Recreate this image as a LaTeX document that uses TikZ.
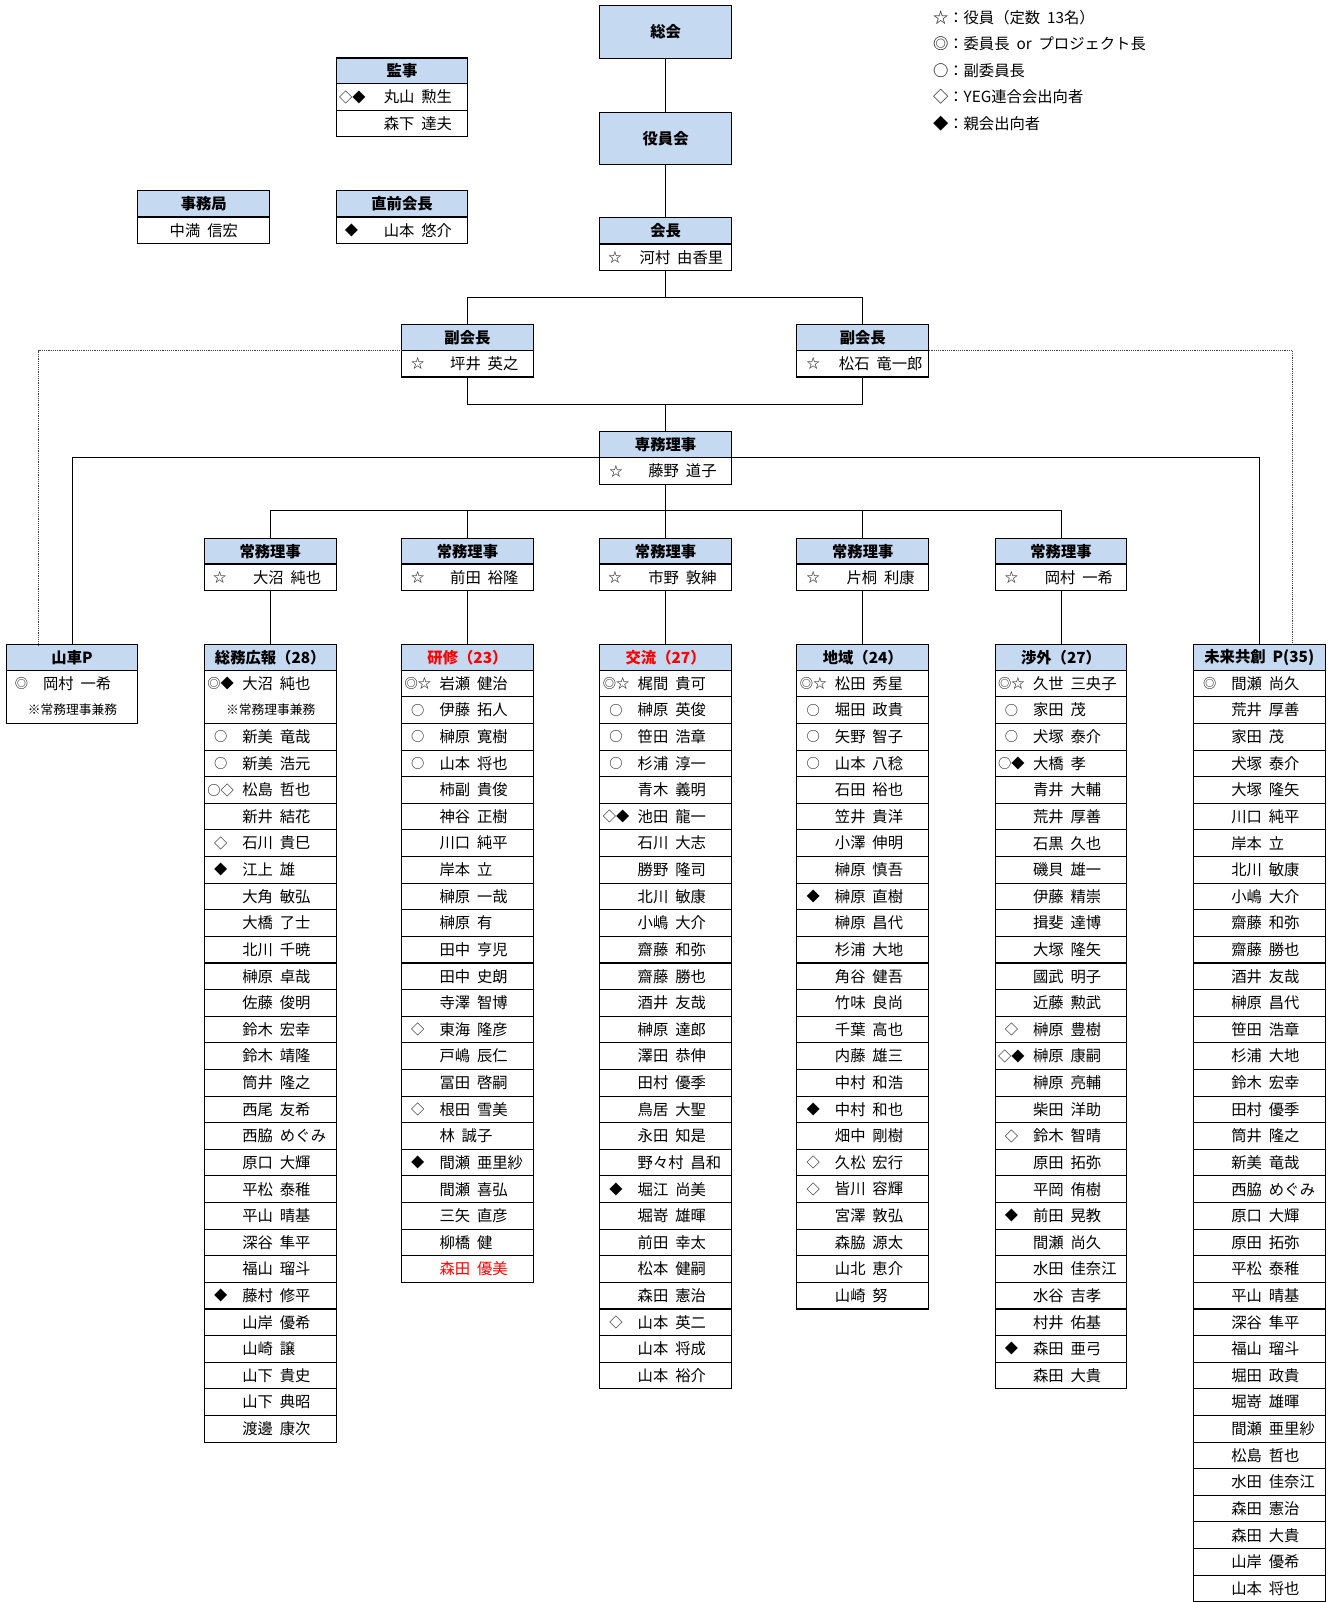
\documentclass[tikz,border=0pt]{standalone}
\usepackage{fontspec}
\setmainfont{Noto Sans CJK JP}[WordSpace=2]
\definecolor{hdrblue}{RGB}{197,217,241}
\begin{document}
\begin{tikzpicture}[x=1pt,y=-1pt,
  box/.style={draw=black, line width=1.1pt, minimum width=129pt, inner sep=0pt, outer sep=0pt},
  hdr/.style={box, fill=hdrblue, minimum height=25.5pt, font=\fontsize{15}{18}\selectfont\bfseries},
  bighdr/.style={box, fill=hdrblue, font=\fontsize{15}{18}\selectfont\bfseries},
  cell/.style={box, fill=white, minimum height=26.05pt},
  nm/.style={inner sep=0pt, font=\fontsize{15}{18}\selectfont},
  mk/.style={inner sep=0pt, font=\fontsize{13}{15}\selectfont},
  note/.style={inner sep=0pt, font=\fontsize{12.5}{14}\selectfont},
  leg/.style={inner sep=0pt, anchor=west, font=\fontsize{15}{18}\selectfont},
  conn/.style={draw=black, line width=1pt},
  dotl/.style={draw=black!75, line width=0.8pt, densely dotted}]
\useasboundingbox (0,0) rectangle (1302,1568);

% ---------- coordinates for connectors ----------
\coordinate (j1) at (651.5,291);
\coordinate (j2) at (651.5,396);
\coordinate (j3) at (651.5,500);
\coordinate (dl) at (38,631);
\coordinate (dr) at (1265,631);

% ---------- top boxes ----------
\node[bighdr, minimum height=52pt] (sokai) at (651.5,31) {総会};
\node[bighdr, minimum height=51pt] (yakuin) at (651.5,135.5) {役員会};

\node[hdr] (kaicho-h) at (651.5,226) {会長};
\node[cell] (kaicho-r) at (651.5,252) {};

\node[hdr] (fkL-h) at (457.5,330.5) {副会長};
\node[cell] (fkL-r) at (457.5,356) {};
\node[hdr] (fkR-h) at (844.5,330.5) {副会長};
\node[cell] (fkR-r) at (844.5,356) {};

\node[hdr] (senmu-h) at (651.5,435) {専務理事};
\node[cell] (senmu-r) at (651.5,461) {};

\foreach \c/\k in {264.5/1,457.5/2,651.5/3,844.5/4,1038.5/5}{
  \node[hdr] (jomu\k-h) at (\c,539.5) {常務理事};
  \node[cell] (jomu\k-r) at (\c,565) {};
}

% committee headers
\node[hdr] (dashi-h) at (70.5,643.5) {山車P};
\node[hdr] (somu-h) at (264.5,643.5) {総務広報（28）};
\node[hdr, text=red] (kenshu-h) at (457.5,643.5) {研修（23）};
\node[hdr, text=red] (koryu-h) at (651.5,643.5) {交流（27）};
\node[hdr] (chiiki-h) at (844.5,643.5) {地域（24）};
\node[hdr] (shogai-h) at (1038.5,643.5) {渉外（27）};
\node[hdr] (mirai-h) at (1232.5,643.5) {未来共創 P(35)};

% ---------- connectors ----------
\draw[conn] (sokai.south) -- (yakuin.north);
\draw[conn] (yakuin.south) -- (kaicho-h.north);
\draw[conn] (kaicho-r.south) -- (j1);
\draw[conn] (fkL-h.north) |- (j1) -| (fkR-h.north);
\draw[conn] (fkL-r.south) |- (j2) -| (fkR-r.south);
\draw[conn] (j2) -- (senmu-h.north);
\draw[conn] (dashi-h.north) |- (senmu-h.south west);
\draw[conn] (mirai-h.north) |- (senmu-h.south east);
\draw[conn] (senmu-r.south) -- (j3);
\draw[conn] (jomu1-h.north) |- (j3) -| (jomu5-h.north);
\draw[conn] (jomu2-h.north) |- (j3);
\draw[conn] (jomu4-h.north) |- (j3);
\draw[conn] (j3) -- (jomu3-h.north);
\draw[conn] (jomu1-r.south) -- (somu-h.north);
\draw[conn] (jomu2-r.south) -- (kenshu-h.north);
\draw[conn] (jomu3-r.south) -- (koryu-h.north);
\draw[conn] (jomu4-r.south) -- (chiiki-h.north);
\draw[conn] (jomu5-r.south) -- (shogai-h.north);
\draw[dotl] (fkL-h.south west) -| (dl);
\draw[dotl] (fkR-h.south east) -| (dr);

% ---------- names in top boxes ----------
\node[mk] at (602,252) {☆};
\node[nm] at (667,252) {河村 由香里};
\node[mk] at (409,356) {☆};
\node[nm] at (474,356) {坪井 英之};
\node[mk] at (796,356) {☆};
\node[nm] at (862,356) {松石 竜一郎};
\node[mk] at (603,461) {☆};
\node[nm] at (668,461) {藤野 道子};
\node[mk] at (215,565) {☆};
\node[nm] at (281,565) {大沼 純也};
\node[mk] at (409,565) {☆};
\node[nm] at (474,565) {前田 裕隆};
\node[mk] at (602,565) {☆};
\node[nm] at (668,565) {市野 敦紳};
\node[mk] at (796,565) {☆};
\node[nm] at (862,565) {片桐 利康};
\node[mk] at (990,565) {☆};
\node[nm] at (1056,565) {岡村 一希};

% ---------- 監事, 事務局, 直前会長 ----------
\node[hdr] (kanji-h) at (393.5,69.5) {監事};
\node[cell] (kanji-r1) at (393.5,95) {};
\node[cell] (kanji-r2) at (393.5,121) {};
\node[mk] at (345,95) {◇◆};
\node[nm] at (409,95) {丸山 勲生};
\node[nm] at (409,121) {森下 達夫};

\node[hdr] (jimu-h) at (199.5,199.5) {事務局};
\node[cell] (jimu-r) at (199.5,225.5) {};
\node[nm] at (199.5,225.5) {中満 信宏};

\node[hdr] (zenkai-h) at (393.5,199.5) {直前会長};
\node[cell] (zenkai-r) at (393.5,225.5) {};
\node[mk] at (344,225.5) {◆};
\node[nm] at (409,225.5) {山本 悠介};

% ---------- legend ----------
\node[leg] (lg1) at (913,17) {☆：役員（定数 13名）};
\node[leg] (lg2) at (913,43) {◎：委員長 or プロジェクト長};
\node[leg] (lg3) at (913,69) {○：副委員長};
\node[leg] (lg4) at (913,95) {◇：YEG連合会出向者};
\node[leg] (lg5) at (913,121) {◆：親会出向者};

% ---------- 山車P ----------
\node[box, fill=white, minimum height=52.1pt] (dashi-1) at (70.5,682.05) {};
\node[mk] at (21,669) {◎};
\node[nm, anchor=west] at (42,669) {岡村 一希};
\node[note] at (71,695) {※常務理事兼務};

% ---------- 総務広報 ----------
\node[box, fill=white, minimum height=52.1pt] (somu-1) at (264.5,682.05) {};
\node[mk] at (216,669) {◎◆};
\node[nm, anchor=west] at (237,669) {大沼 純也};
\node[note] at (265,695) {※常務理事兼務};
\foreach[count=\i] \m/\n in {○/新美 竜哉, ○/新美 浩元, ○◇/松島 哲也, /新井 結花, ◇/石川 貴巳, ◆/江上 雄, /大角 敏弘, /大橋 了士, /北川 千暁, /榊原 卓哉, /佐藤 俊明, /鈴木 宏幸, /鈴木 靖隆, /筒井 隆之, /西尾 友希, /西脇 めぐみ, /原口 大輝, /平松 泰稚, /平山 晴基, /深谷 隼平, /福山 瑠斗, ◆/藤村 修平, /山岸 優希, /山崎 譲, /山下 貴史, /山下 典昭, /渡邊 康次}{
  \node[cell] (somu-r\i) at (264.5,{656+(\i+1.5)*26.05}) {};
  \node[mk] at (216,{656+(\i+1.5)*26.05}) {\m};
  \node[nm, anchor=west] at (237,{656+(\i+1.5)*26.05}) {\n};
}

% ---------- 研修 ----------
\foreach[count=\i] \m/\n in {◎☆/岩瀬 健治, ○/伊藤 拓人, ○/榊原 寛樹, ○/山本 将也, /柿副 貴俊, /神谷 正樹, /川口 純平, /岸本 立, /榊原 一哉, /榊原 有, /田中 亨児, /田中 史朗, /寺澤 智博, ◇/東海 隆彦, /戸嶋 辰仁, /冨田 啓嗣, ◇/根田 雪美, /林 誠子, ◆/間瀬 亜里紗, /間瀬 喜弘, /三矢 直彦, /柳橋 健, /{\color{red}森田 優美}}{
  \node[cell] (kenshu-r\i) at (457.5,{656+(\i-0.5)*26.05}) {};
  \node[mk] at (409,{656+(\i-0.5)*26.05}) {\m};
  \node[nm, anchor=west] at (430,{656+(\i-0.5)*26.05}) {\n};
}

% ---------- 交流 ----------
\foreach[count=\i] \m/\n in {◎☆/梶間 貴可, ○/榊原 英俊, ○/笹田 浩章, ○/杉浦 淳一, /青木 義明, ◇◆/池田 龍一, /石川 大志, /勝野 隆司, /北川 敏康, /小嶋 大介, /齋藤 和弥, /齋藤 勝也, /酒井 友哉, /榊原 達郎, /澤田 恭伸, /田村 優季, /鳥居 大聖, /永田 知是, /野々村 昌和, ◆/堀江 尚美, /堀嵜 雄暉, /前田 幸太, /松本 健嗣, /森田 憲治, ◇/山本 英二, /山本 将成, /山本 裕介}{
  \node[cell] (koryu-r\i) at (651.5,{656+(\i-0.5)*26.05}) {};
  \node[mk] at (603,{656+(\i-0.5)*26.05}) {\m};
  \node[nm, anchor=west] at (624,{656+(\i-0.5)*26.05}) {\n};
}

% ---------- 地域 ----------
\foreach[count=\i] \m/\n in {◎☆/松田 秀星, ○/堀田 政貴, ○/矢野 智子, ○/山本 八稔, /石田 裕也, /笠井 貴洋, /小澤 伸明, /榊原 慎吾, ◆/榊原 直樹, /榊原 昌代, /杉浦 大地, /角谷 健吾, /竹味 良尚, /千葉 高也, /内藤 雄三, /中村 和浩, ◆/中村 和也, /畑中 剛樹, ◇/久松 宏行, ◇/皆川 容輝, /宮澤 敦弘, /森脇 源太, /山北 恵介, /山崎 努}{
  \node[cell] (chiiki-r\i) at (844.5,{656+(\i-0.5)*26.05}) {};
  \node[mk] at (796,{656+(\i-0.5)*26.05}) {\m};
  \node[nm, anchor=west] at (817,{656+(\i-0.5)*26.05}) {\n};
}

% ---------- 渉外 ----------
\foreach[count=\i] \m/\n in {◎☆/久世 三央子, ○/家田 茂, ○/犬塚 泰介, ○◆/大橋 孝, /青井 大輔, /荒井 厚善, /石黒 久也, /磯貝 雄一, /伊藤 精崇, /揖斐 達博, /大塚 隆矢, /國武 明子, /近藤 勲武, ◇/榊原 豊樹, ◇◆/榊原 康嗣, /榊原 亮輔, /柴田 洋助, ◇/鈴木 智晴, /原田 拓弥, /平岡 侑樹, ◆/前田 晃教, /間瀬 尚久, /水田 佳奈江, /水谷 吉孝, /村井 佑基, ◆/森田 亜弓, /森田 大貴}{
  \node[cell] (shogai-r\i) at (1038.5,{656+(\i-0.5)*26.05}) {};
  \node[mk] at (990,{656+(\i-0.5)*26.05}) {\m};
  \node[nm, anchor=west] at (1011,{656+(\i-0.5)*26.05}) {\n};
}

% ---------- 未来共創P ----------
\foreach[count=\i] \m/\n in {◎/間瀬 尚久, /荒井 厚善, /家田 茂, /犬塚 泰介, /大塚 隆矢, /川口 純平, /岸本 立, /北川 敏康, /小嶋 大介, /齋藤 和弥, /齋藤 勝也, /酒井 友哉, /榊原 昌代, /笹田 浩章, /杉浦 大地, /鈴木 宏幸, /田村 優季, /筒井 隆之, /新美 竜哉, /西脇 めぐみ, /原口 大輝, /原田 拓弥, /平松 泰稚, /平山 晴基, /深谷 隼平, /福山 瑠斗, /堀田 政貴, /堀嵜 雄暉, /間瀬 亜里紗, /松島 哲也, /水田 佳奈江, /森田 憲治, /森田 大貴, /山岸 優希, /山本 将也}{
  \node[cell] (mirai-r\i) at (1232.5,{656+(\i-0.5)*26.05}) {};
  \node[mk] at (1184,{656+(\i-0.5)*26.05}) {\m};
  \node[nm, anchor=west] at (1205,{656+(\i-0.5)*26.05}) {\n};
}
\end{tikzpicture}
\end{document}
